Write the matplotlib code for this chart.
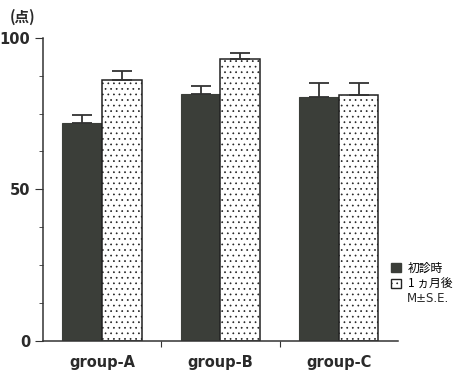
import matplotlib.pyplot as plt
from matplotlib.patches import Patch
import numpy as np

plt.rcParams['font.family'] = ['DejaVu Sans', 'Noto Sans CJK JP']
plt.rcParams['hatch.color'] = '#adadad'
plt.rcParams['hatch.linewidth'] = 0.5

# Scores per group: first visit vs. one month later (mean and S.E.)
groups = ['group-A', 'group-B', 'group-C']
first_visit = [72.0, 81.4, 80.4]
first_se = [2.7, 2.8, 4.8]
one_month = [86.1, 93.1, 81.2]
one_month_se = [3.1, 1.8, 4.0]
legend_labels = ['初診時', '1 ヵ月後']

dark = '#3b3e39'

fig = plt.figure(figsize=(4.76, 3.75), dpi=100)
ax = fig.add_axes([0.090, 0.091, 0.746, 0.808])

x = np.arange(len(groups)) + 0.5
w = 0.335
zeros = np.zeros(len(groups))

ax.bar(x - w / 2, first_visit, w, color=dark, edgecolor=dark, linewidth=0.8,
       yerr=[zeros, first_se], capsize=7.5,
       error_kw=dict(ecolor='#333333', elinewidth=1.3, capthick=1.3))
ax.bar(x + w / 2, one_month, w, color='white', edgecolor='#222222', linewidth=1.1,
       hatch='...', yerr=[zeros, one_month_se], capsize=7.5,
       error_kw=dict(ecolor='#333333', elinewidth=1.3, capthick=1.3))

ax.set_xlim(0, 3)
ax.set_ylim(0, 100)
ax.spines['top'].set_visible(False)
ax.spines['right'].set_visible(False)
for s in ('left', 'bottom'):
    ax.spines[s].set_linewidth(1.1)
    ax.spines[s].set_color('#333333')

# group boundaries get the tick marks, names sit centred without ticks
ax.set_xticks([1, 2])
ax.set_xticklabels([])
ax.set_xticks(x, minor=True)
ax.set_xticklabels(groups, minor=True, fontsize=10.5, fontweight='bold', color='#2a2a2a')
ax.tick_params(axis='x', which='major', length=4, direction='out', color='#333333')
ax.tick_params(axis='x', which='minor', length=0, pad=10)

ax.set_yticks([0, 50, 100])
ax.set_yticklabels(['0', '50', '100'], fontsize=10.5, fontweight='bold', color='#2a2a2a')
ax.set_yticks(np.arange(0, 101, 12.5), minor=True)
ax.tick_params(axis='y', which='major', length=6, direction='out', color='#333333', pad=3)
ax.tick_params(axis='y', which='minor', length=3, direction='out', color='#333333')

fig.text(0.02, 0.955, '(点)', fontsize=10.5, fontweight='bold', color='#2a2a2a',
         family=['Noto Sans CJK JP'], va='center')

handles = [Patch(facecolor=dark, edgecolor=dark),
           Patch(facecolor='white', edgecolor='#222222', hatch='...')]
leg = fig.legend(handles, legend_labels, loc='upper left', bbox_to_anchor=(0.8, 0.33),
                 frameon=False, handlelength=0.8, handleheight=0.8,
                 handletextpad=0.6, labelspacing=0.25,
                 prop={'family': ['Noto Sans CJK JP'], 'size': 8.5})
fig.text(0.855, 0.205, 'M±S.E.', fontsize=8.5, color='#2a2a2a', va='center')

fig.savefig('out.png', dpi=100, facecolor='white')
